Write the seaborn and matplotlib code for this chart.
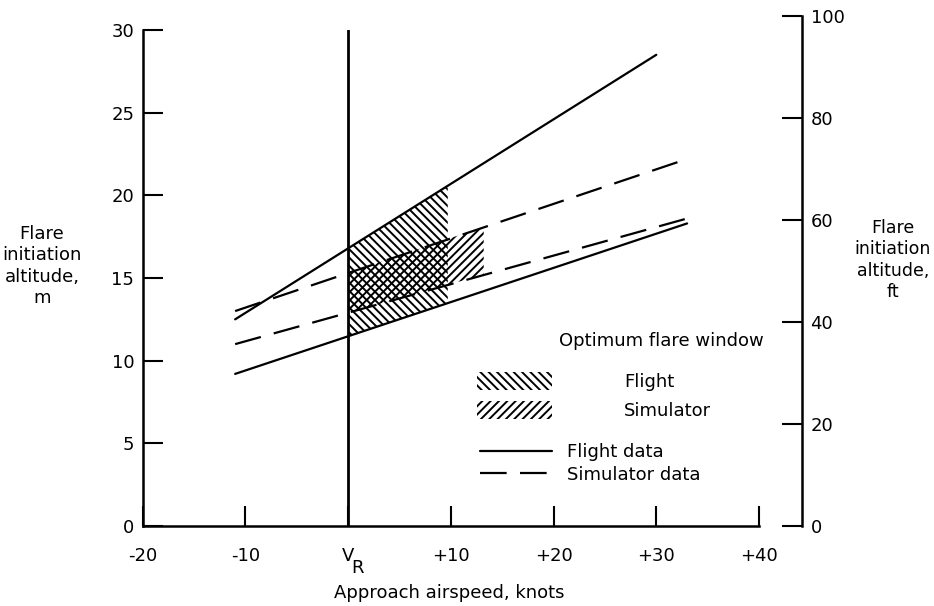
import matplotlib
matplotlib.use("Agg")
import matplotlib.pyplot as plt
from matplotlib.patches import Patch
from matplotlib.lines import Line2D
import numpy as np
import pandas as pd
import seaborn as sns

# ---------------- data ----------------
line_ids = ["flight_upper", "flight_lower", "sim_upper", "sim_lower"]
line_kind = ["Flight data", "Flight data", "Simulator data", "Simulator data"]
line_speed = [[-11, 30], [-11, 33], [-11, 33], [-11, 33]]      # knots rel. V_R
line_alt = [[12.5, 28.5], [9.2, 18.3], [13.0, 22.2], [11.0, 18.6]]  # m

flight_window_speed = [0, 9.7]
flight_window_low = [11.5, 13.5]
flight_window_high = [16.8, 20.6]

sim_window_speed = [0, 13.2]
sim_window_low = [12.9, 15.2]
sim_window_high = [15.3, 18.1]

vr_speed = 0

x_ticks = [-20, -10, 0, 10, 20, 30, 40]
x_ticklabels = ["-20", "-10", "V", "+10", "+20", "+30", "+40"]
y_ticks_m = [0, 5, 10, 15, 20, 25, 30]
y_ticks_ft = [0, 20, 40, 60, 80, 100]

# ---------------- style ----------------
sns.set_theme(style="white")
plt.rcParams["font.family"] = ["DejaVu Sans"]
plt.rcParams["text.color"] = "black"
plt.rcParams["hatch.linewidth"] = 1.4
plt.rcParams["hatch.color"] = "black"
FS = 13
HATCH_F = "\\\\\\\\"
HATCH_S = "////"

rows = []
for lid, kind, xs, ys in zip(line_ids, line_kind, line_speed, line_alt):
    for x, y in zip(xs, ys):
        rows.append({"line": lid, "kind": kind, "speed": x, "alt": y})
df = pd.DataFrame(rows)

W, H = 934, 606
fig = plt.figure(figsize=(W / 100, H / 100), dpi=100)
fig.patch.set_facecolor("white")
ax = fig.add_axes([142.7 / W, 80 / H, 616.3 / W, 496 / H])
ax.set_facecolor("none")

sns.lineplot(data=df, x="speed", y="alt", units="line", estimator=None,
             style="kind", dashes={"Flight data": "", "Simulator data": (12, 6)},
             color="black", lw=1.6, legend=False, ax=ax)

ax.fill_between(flight_window_speed, flight_window_low, flight_window_high,
                facecolor="none", edgecolor="black", hatch=HATCH_F, linewidth=0)
ax.fill_between(sim_window_speed, sim_window_low, sim_window_high,
                facecolor="none", edgecolor="black", hatch=HATCH_S, linewidth=0)

ax.axvline(vr_speed, color="black", lw=2)

ax.set_xlim(-20, 40)
ax.set_ylim(0, 30)
ax.set_xticks(x_ticks)
ax.set_xticklabels(x_ticklabels)
ax.set_yticks(y_ticks_m)
for s in ["top", "right"]:
    ax.spines[s].set_visible(False)
for s in ["left", "bottom"]:
    ax.spines[s].set_linewidth(1.8)
    ax.spines[s].set_color("black")
ax.tick_params(axis="x", direction="in", length=14.4, width=1.5, pad=15,
               labelsize=FS, colors="black", bottom=True)
ax.tick_params(axis="y", direction="in", length=14.4, width=1.5, pad=6,
               labelsize=FS, colors="black", left=True)
# subscript R of V_R
ax.annotate("R", xy=(vr_speed, 0), xycoords=("data", "axes fraction"),
            xytext=(6.5, -30.5), textcoords="offset points",
            ha="center", va="center", fontsize=FS, color="black")

ax.set_xlabel("Approach airspeed, knots", fontsize=FS, color="black")
ax.xaxis.set_label_coords(449 / W, (H - 593) / H, transform=fig.transFigure)
ax.xaxis.label.set_va("center")
ax.set_ylabel("Flare\ninitiation\naltitude,\nm", fontsize=FS, rotation=0,
              ha="center", va="center", multialignment="center", color="black",
              linespacing=1.25)
ax.yaxis.set_label_coords(42 / W, (H - 266) / H, transform=fig.transFigure)

# right axis in feet
ax2 = fig.add_axes([801.7 / W, 80 / H, 0.0005, 510 / H])
ax2.patch.set_visible(False)
ax2.set_ylim(0, 100)
ax2.set_xticks([])
ax2.yaxis.tick_right()
ax2.set_yticks(y_ticks_ft)
for s in ["top", "left", "bottom"]:
    ax2.spines[s].set_visible(False)
ax2.spines["right"].set_linewidth(1.8)
ax2.spines["right"].set_color("black")
ax2.tick_params(axis="y", direction="in", length=14.4, width=1.5, pad=6,
                labelsize=FS, colors="black", right=True, left=False)
ax2.yaxis.set_label_position("right")
ax2.set_ylabel("Flare\ninitiation\naltitude,\nft", fontsize=12.5, rotation=0,
               ha="center", va="center", multialignment="center", color="black",
               linespacing=1.22)
ax2.yaxis.set_label_coords(893 / W, (H - 260) / H, transform=fig.transFigure)

# legend
ax.text(764 / W, (H - 341) / H, "Optimum flare window", transform=fig.transFigure,
        ha="right", va="center", fontsize=FS, color="black")
hatch_handles = [Patch(facecolor="none", edgecolor="black", hatch=HATCH_F, lw=0),
                 Patch(facecolor="none", edgecolor="black", hatch=HATCH_S, lw=0)]
leg1 = ax.legend(hatch_handles, ["Flight", "Simulator"], loc="upper left",
                 bbox_to_anchor=(477 / W, (H - 372) / H), bbox_transform=fig.transFigure,
                 frameon=False, borderpad=0, borderaxespad=0, handlelength=4.15,
                 handleheight=1.15, handletextpad=4.0, labelspacing=0.55, fontsize=FS,
                 labelcolor="black")
ax.add_artist(leg1)
line_handles = [Line2D([], [], color="black", lw=1.6),
                Line2D([], [], color="black", lw=1.6, dashes=(12, 6))]
ax.legend(line_handles, ["Flight data", "Simulator data"], loc="upper left",
          bbox_to_anchor=(480 / W, (H - 443) / H), bbox_transform=fig.transFigure,
          frameon=False, borderpad=0, borderaxespad=0, handlelength=4.0,
          handletextpad=0.8, labelspacing=0.25, fontsize=FS, labelcolor="black")

fig.savefig("out.png", dpi=100, facecolor="white")
